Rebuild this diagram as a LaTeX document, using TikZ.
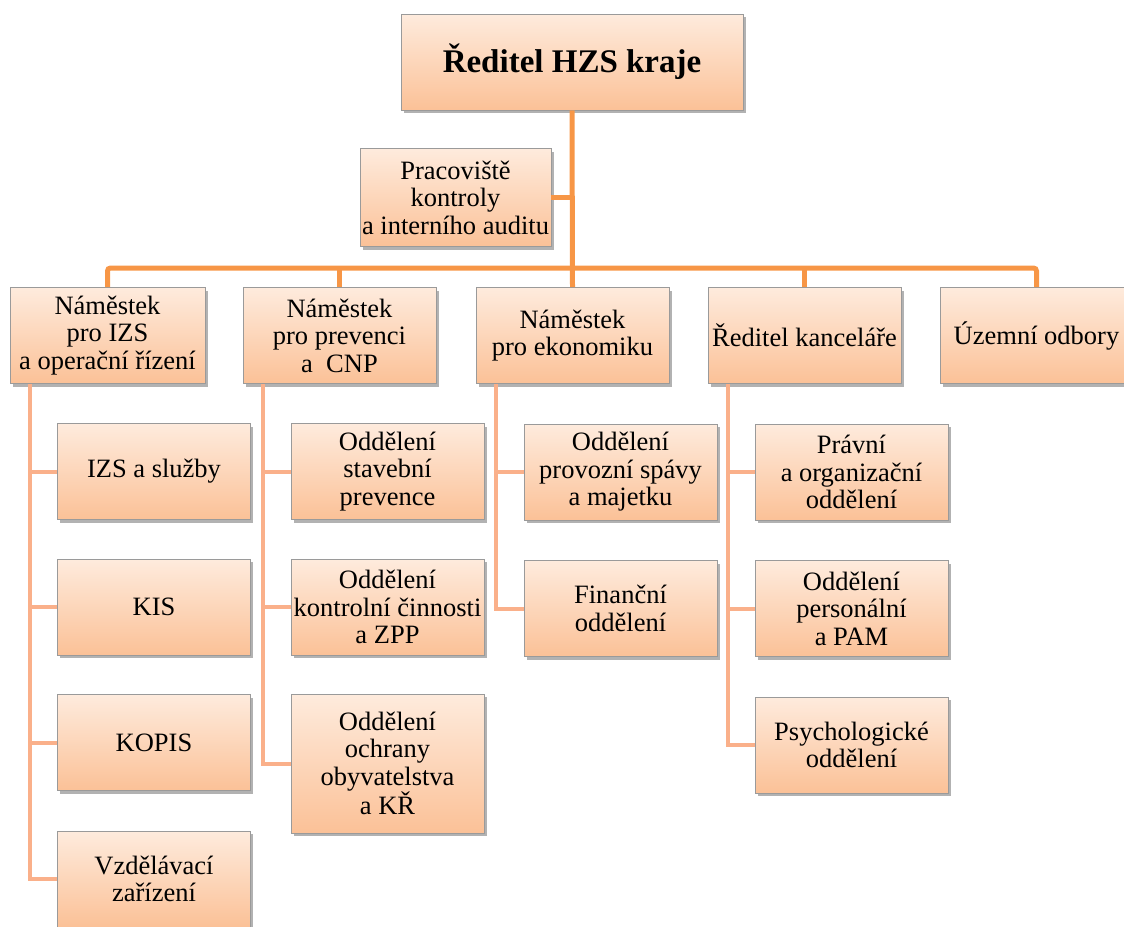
\documentclass[tikz,border=0pt]{standalone}
\usepackage{fontspec}
\setmainfont{Liberation Serif}
\usetikzlibrary{shadows}
\definecolor{busor}{HTML}{F79646}
\definecolor{subor}{HTML}{FAB08A}
\definecolor{boxtop}{HTML}{FEEBDD}
\definecolor{boxbot}{HTML}{FBC197}
\definecolor{boxline}{HTML}{9A9A9A}
\begin{document}
\begin{tikzpicture}[x=1pt,y=-1pt,
  box/.style={draw=boxline, line width=0.8pt, top color=boxtop, bottom color=boxbot,
    align=center, inner sep=0pt, font=\fontsize{26.5}{27.5}\selectfont,
    minimum width=193pt, minimum height=96pt,
    drop shadow={shadow xshift=2.5pt, shadow yshift=-3pt, fill=black, opacity=0.3}},
  bus/.style={draw=busor, line width=5pt, rounded corners=3pt},
  sub/.style={draw=subor, line width=4pt}]
\useasboundingbox (0,0) rectangle (1124,926);
% nodes
\node[box, minimum width=342pt, font=\bfseries\fontsize{33}{38}\selectfont] (top) at (572,62) {Ředitel HZS kraje};
\node[box, minimum width=191pt, minimum height=98pt] (prac) at (455.5,197.5) {Pracoviště\\kontroly\\a interního auditu};
\node[box, minimum width=195pt] (b1) at (107.5,335.5) {Náměstek\\pro IZS\\a operační řízení};
\node[box] (b2) at (339.5,335.5) {Náměstek\\pro prevenci\\a~ CNP};
\node[box] (b3) at (572.5,335.5) {Náměstek\\pro ekonomiku};
\node[box] (b4) at (804.5,335.5) {Ředitel kanceláře};
\node[box] (b5) at (1036.5,335.5) {Územní odbory};
\node[box] (c11) at (154,471.5) {IZS a služby};
\node[box] (c12) at (154,607) {KIS};
\node[box] (c13) at (154,742.5) {KOPIS};
\node[box] (c14) at (154,879) {Vzdělávací\\zařízení};
\node[box] (c21) at (387.5,471.5) {Oddělení\\stavební\\prevence};
\node[box] (c22) at (387.5,607) {Oddělení\\kontrolní činnosti\\a ZPP};
\node[box, minimum height=139pt] (c23) at (387.5,763.5) {Oddělení\\ochrany\\obyvatelstva\\a KŘ};
\node[box] (c31) at (620.5,472) {Oddělení\\provozní spávy\\a majetku};
\node[box] (c32) at (620.5,608.5) {Finanční\\oddělení};
\node[box] (c41) at (851.5,472) {Právní\\a organizační\\oddělení};
\node[box] (c42) at (851.5,608.5) {Oddělení\\personální\\a PAM};
\node[box] (c43) at (851.5,745) {Psychologické\\oddělení};
% connectors
\coordinate (bus) at (572,268);
\draw[bus] (top.south) -- (b3.north);
\draw[bus] (prac.east) -- (prac.east -| top.south);
\draw[bus] (b1.north) |- (bus) -| (b5.north);
\draw[bus] (b2.north) -- (b2.north |- bus);
\draw[bus] (b4.north) -- (b4.north |- bus);
\foreach \p/\c in {b1/c11,b1/c12,b1/c13,b1/c14,b2/c21,b2/c22,b2/c23,b3/c31,b3/c32,b4/c41,b4/c42,b4/c43}{
  \draw[sub] ([xshift=20pt]\p.south west) |- (\c.west);
}
\end{tikzpicture}
\end{document}
